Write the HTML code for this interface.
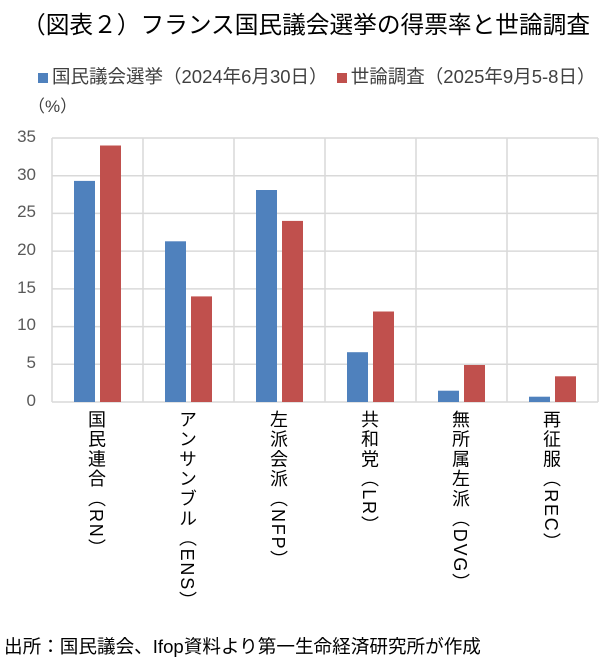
<!DOCTYPE html>
<html><head><meta charset="utf-8"><style>
body{margin:0;width:604px;height:658px;background:#fff;position:relative;font-family:"Liberation Sans","Noto Sans CJK JP",sans-serif;color:#000;overflow:hidden}
.a{position:absolute;white-space:nowrap}
.yl{position:absolute;width:32px;text-align:right;font-size:17px;color:#595959;left:4px}
.vl{position:absolute;top:410px;writing-mode:vertical-rl;text-orientation:mixed;font-size:18px;letter-spacing:1.8px;color:#000;width:24px}
</style></head><body>
<div class="a" style="left:22px;top:6px;font-size:23.7px;">（図表２）フランス国民議会選挙の得票率と世論調査</div>
<div class="a" style="left:38px;top:63px;font-size:18.5px;color:#404040"><span style="display:inline-block;width:10px;height:10px;background:#4f81bd;margin-right:4px"></span>国民議会選挙（2024年6月30日）　<span style="display:inline-block;width:10px;height:10px;background:#c0504d;margin-right:4px"></span>世論調査（2025年9月5-8日）</div>
<div class="a" style="left:28px;top:92px;font-size:17px;color:#404040">（%）</div>
<svg class="a" style="left:0;top:0" width="604" height="658">
<g stroke="#d9d9d9" stroke-width="1.5">
<line x1="52" x2="598" y1="138" y2="138"/><line x1="52" x2="598" y1="175.7" y2="175.7"/><line x1="52" x2="598" y1="213.4" y2="213.4"/><line x1="52" x2="598" y1="251.1" y2="251.1"/><line x1="52" x2="598" y1="288.9" y2="288.9"/><line x1="52" x2="598" y1="326.6" y2="326.6"/><line x1="52" x2="598" y1="364.3" y2="364.3"/><line x1="52" x2="598" y1="402" y2="402"/>
<line x1="52" x2="52" y1="138" y2="402"/><line x1="143" x2="143" y1="138" y2="402"/><line x1="234" x2="234" y1="138" y2="402"/><line x1="325" x2="325" y1="138" y2="402"/><line x1="416" x2="416" y1="138" y2="402"/><line x1="507" x2="507" y1="138" y2="402"/><line x1="598" x2="598" y1="138" y2="402"/>
</g>
<g fill="#4f81bd">
<rect x="74" y="180.9" width="21" height="221.1"/><rect x="165" y="241.3" width="21" height="160.7"/><rect x="256" y="190" width="21" height="212"/><rect x="347" y="352.2" width="21" height="49.8"/><rect x="438" y="390.7" width="21" height="11.3"/><rect x="529" y="396.7" width="21" height="5.3"/>
</g>
<g fill="#c0504d">
<rect x="100" y="145.5" width="21" height="256.5"/><rect x="191" y="296.4" width="21" height="105.6"/><rect x="282" y="220.9" width="21" height="181.1"/><rect x="373" y="311.5" width="21" height="90.5"/><rect x="464" y="365" width="21" height="37"/><rect x="555" y="376.3" width="21" height="25.7"/>
</g>
</svg>
<div class="yl" style="top:127px">35</div><div class="yl" style="top:165px">30</div><div class="yl" style="top:202px">25</div><div class="yl" style="top:240px">20</div><div class="yl" style="top:278px">15</div><div class="yl" style="top:315px">10</div><div class="yl" style="top:353px">5</div><div class="yl" style="top:391px">0</div>
<div class="vl" style="left:85px">国民連合（RN）</div>
<div class="vl" style="left:176px">アンサンブル（ENS）</div>
<div class="vl" style="left:267px">左派会派（NFP）</div>
<div class="vl" style="left:358px">共和党（LR）</div>
<div class="vl" style="left:449px">無所属左派（DVG）</div>
<div class="vl" style="left:540px">再征服（REC）</div>
<div class="a" style="left:4px;top:632px;font-size:18.6px;">出所：国民議会、Ifop資料より第一生命経済研究所が作成</div>
</body></html>
